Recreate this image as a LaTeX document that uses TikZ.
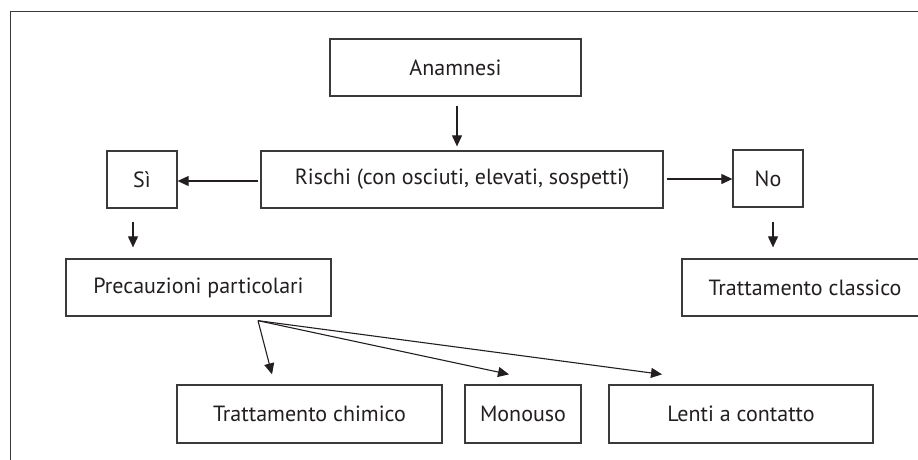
\documentclass[tikz,border=0pt]{standalone}
\usepackage{fontspec}
\setmainfont{PT Sans}
\usetikzlibrary{arrows.meta}
\definecolor{ink}{HTML}{231F20}
\definecolor{edge}{HTML}{3A3A3A}
\tikzset{
  box/.style={draw=edge, line width=1.3pt, inner sep=0pt, text=ink,
    font=\fontsize{22}{26}\selectfont},
  arr/.style={draw=ink, line width=1.1pt, -{Triangle[length=11pt,width=10pt]}},
  fan/.style={draw=ink, line width=1.1pt, -{Triangle[length=11pt,width=10pt]}},
  frameline/.style={draw=edge, line width=1.5pt}
}
\begin{document}
\begin{tikzpicture}[x=1pt,y=-1pt]
\useasboundingbox (0,0) rectangle (918,459);
\clip (0,0) rectangle (918,459);
\fill[white] (0,0) rectangle (918,459);
\draw[frameline] (10.5,470) -- (10.5,11.5) -- (930,11.5);
\node[box, minimum width=251pt, minimum height=57pt] (anam) at (455.5,67.5) {Anamnesi};
\node[box, minimum width=402pt, minimum height=57pt] (risc) at (462,179.5) {Rischi (con osciuti, elevati, sospetti)};
\node[box, minimum width=70pt, minimum height=57pt] (si) at (142,179.5) {Sì};
\node[box, minimum width=70pt, minimum height=57pt] (no) at (768,178.5) {No};
\node[box, minimum width=265pt, minimum height=57pt] (prec) at (198.5,287.5) {Precauzioni particolari};
\node[box, minimum width=246pt, minimum height=57pt] (clas) at (805,287.5) {Trattamento classico};
\node[box, minimum width=265pt, minimum height=58pt] (chim) at (309.5,414) {Trattamento chimico};
\node[box, minimum width=116pt, minimum height=58pt] (mono) at (523,414) {Monouso};
\node[box, minimum width=264pt, minimum height=58pt] (lent) at (741,414) {Lenti a contatto};
% connectors
\draw[arr] ([xshift=1.5pt,yshift=-9pt]anam.south) -- ([xshift=-5pt,yshift=4pt]risc.north);
\draw[arr] ([xshift=-2pt,yshift=-1.5pt]risc.west) -- ([yshift=-1.5pt]si.east);
\draw[arr] ([xshift=3pt,yshift=0.5pt]risc.east) -- ([yshift=-0.5pt]no.west);
\draw[arr] ([xshift=-9pt,yshift=-13pt]si.south) -- ([xshift=-65.5pt,yshift=11pt]prec.north);
\draw[arr] ([xshift=5pt,yshift=-14pt]no.south) -- ([xshift=-32pt,yshift=11pt]clas.north);
\coordinate (fo) at ([xshift=59.5pt,yshift=-4pt]prec.south);
\draw[fan] (fo) -- ([xshift=-37.5pt,yshift=10pt]chim.north);
\draw[fan] (fo) -- ([xshift=-14pt,yshift=10pt]mono.north);
\draw[fan] (fo) -- ([xshift=-79pt,yshift=10pt]lent.north);
\end{tikzpicture}
\end{document}
